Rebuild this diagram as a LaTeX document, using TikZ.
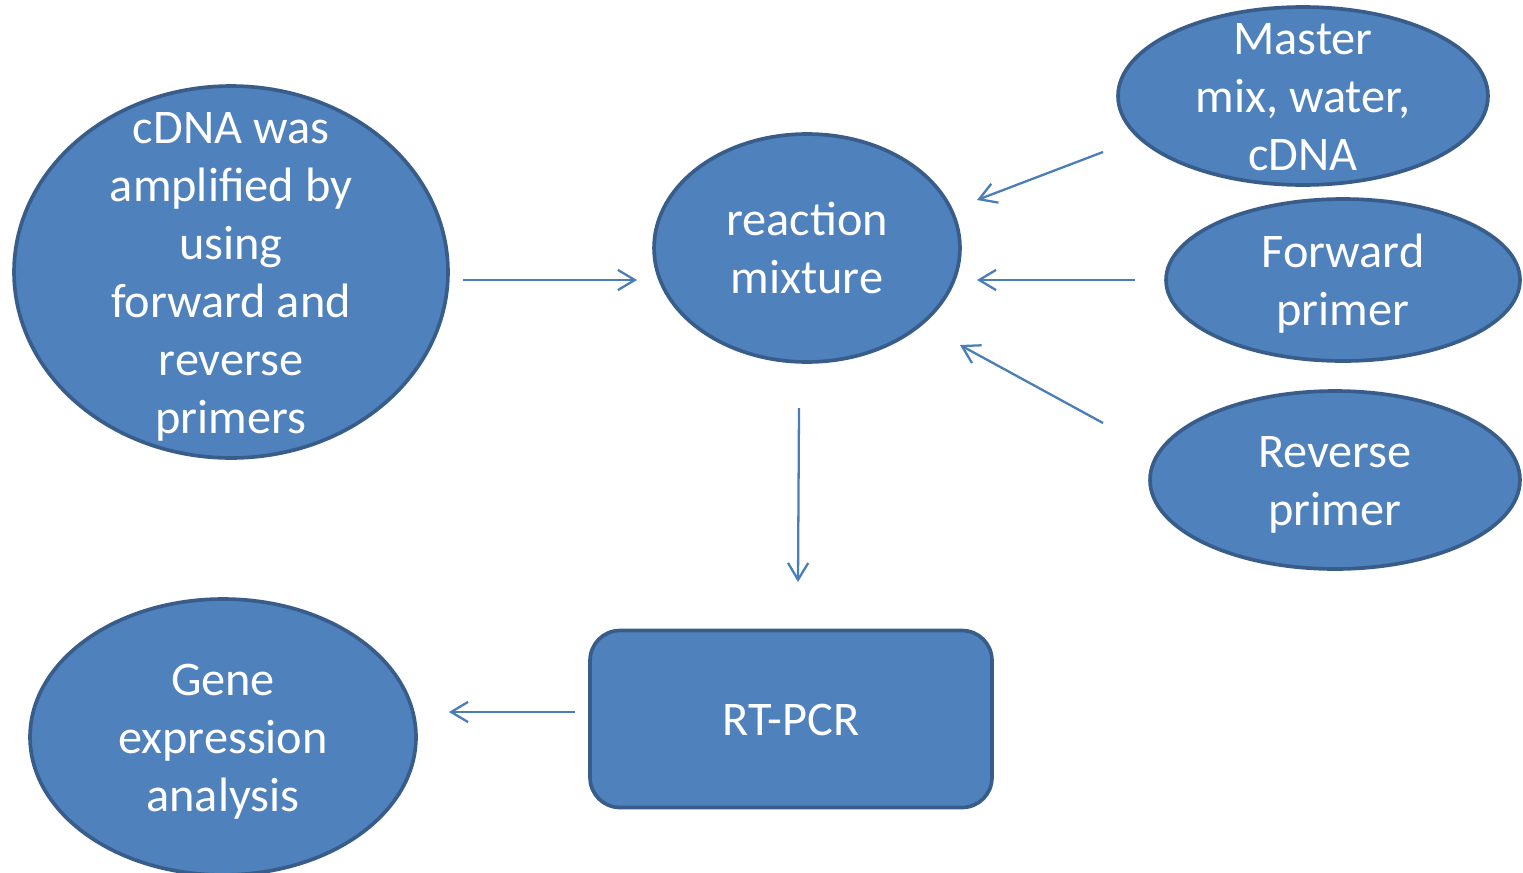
\documentclass[tikz,border=0pt]{standalone}
\usepackage{fontspec}
\setmainfont{Carlito}
\usepackage{tikz}
\usetikzlibrary{shapes.geometric,arrows.meta}

\definecolor{shapefill}{HTML}{4F81BD}
\definecolor{shapeline}{HTML}{385D8A}
\definecolor{arrowblue}{HTML}{4A7EBB}

% text that may run past the outline, as in the original
\newcommand{\blobtext}[1]{\smash{\makebox[0pt]{\raisebox{-9pt}{\begin{tabular}{@{}c@{}}#1\end{tabular}}}}}

\begin{document}
\begin{tikzpicture}[
    x=0.02cm, y=-0.02cm,
    blob/.style={ellipse, draw=shapeline, fill=shapefill, line width=2.1pt, inner sep=0pt, text=white, font=\fontsize{27.5}{33}\selectfont},
    box/.style={rectangle, rounded corners=17pt, draw=shapeline, fill=shapefill, line width=2.1pt, inner sep=0pt, text=white, font=\fontsize{27.5}{33}\selectfont},
    arrow/.style={-{Straight Barb[length=9.6pt,width=11.5pt]}, draw=arrowblue, line width=1.3pt}
]
\useasboundingbox (0,0) rectangle (1523,872);

\node[blob, minimum width=8.68cm, minimum height=7.44cm] (cdna) at (231,272) {\blobtext{cDNA was\\amplified by\\using\\forward and\\reverse\\primers}};

\node[blob, minimum width=6.12cm, minimum height=4.56cm] (mixture) at (807,248) {\blobtext{reaction\\mixture}};

\node[blob, minimum width=7.4cm, minimum height=3.56cm] (master) at (1303,96) {\blobtext{Master\\mix, water,\\cDNA}};

\node[blob, minimum width=7.08cm, minimum height=3.24cm] (forward) at (1343,280) {\blobtext{Forward\\primer}};

\node[blob, minimum width=7.4cm, minimum height=3.56cm] (reverse) at (1335,480) {\blobtext{Reverse\\primer}};

\node[box, minimum width=8.04cm, minimum height=3.54cm] (rtpcr) at (791,719) {\blobtext{RT-PCR}};

\node[blob, minimum width=7.72cm, minimum height=5.52cm] (gene) at (223,737) {\blobtext{Gene\\expression\\analysis}};

% free ends of the connectors
\coordinate (cdnaout) at (463,280);
\coordinate (mixin) at (637,280);
\coordinate (masterout) at (1103,152);
\coordinate (masterin) at (977,200);
\coordinate (forwardout) at (1135,280);
\coordinate (forwardin) at (977,280);
\coordinate (reverseout) at (1103,423);
\coordinate (reversein) at (960,345);
\coordinate (mixout) at (799,408);
\coordinate (rtpcrin) at (798,582);
\coordinate (rtpcrout) at (575,712);
\coordinate (genein) at (449,712);

\draw[arrow] (cdnaout) -- (mixin);
\draw[arrow] (masterout) -- (masterin);
\draw[arrow] (forwardout) -- (forwardin);
\draw[arrow] (reverseout) -- (reversein);
\draw[arrow] (mixout) -- (rtpcrin);
\draw[arrow] (rtpcrout) -- (genein);

\end{tikzpicture}
\end{document}
